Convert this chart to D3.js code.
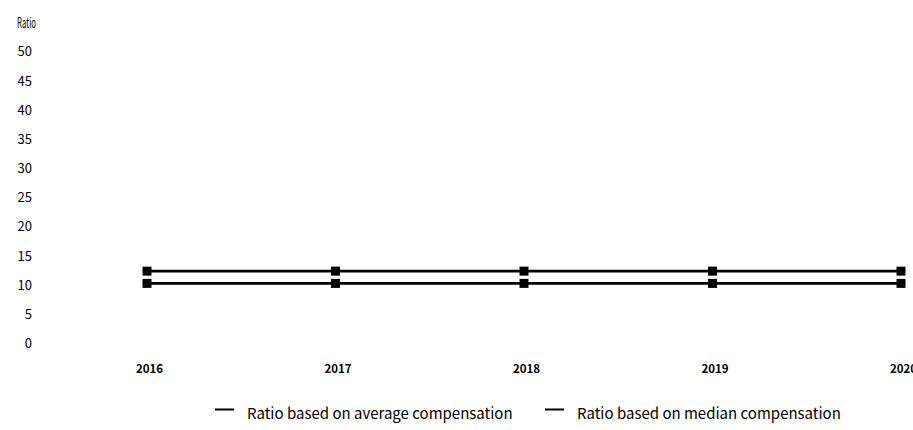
<!DOCTYPE html>
<html>
<head>
<meta charset="utf-8">
<script src="https://cdn.jsdelivr.net/npm/d3@7"></script>
<style>
  html, body { margin: 0; padding: 0; background: #fff; }
  svg { display: block; }
  text { font-family: "Noto Sans CJK KR", "Noto Sans", sans-serif; fill: #000; }
</style>
</head>
<body>
<svg id="chart" width="913" height="430"></svg>
<script>
// Pay ratio data by year
const years = ["2016", "2017", "2018", "2019", "2020"];
const averageRatio = [12.4, 12.4, 12.4, 12.4, 12.4];
const medianRatio = [10.3, 10.3, 10.3, 10.3, 10.3];
const yTicks = [0, 5, 10, 15, 20, 25, 30, 35, 40, 45, 50];
const seriesNames = ["Ratio based on average compensation", "Ratio based on median compensation"];
const yTitle = "Ratio";

const series = [
  { name: seriesNames[0], values: averageRatio },
  { name: seriesNames[1], values: medianRatio }
];

const svg = d3.select("#chart");

const x = d3.scalePoint().domain(years).range([147, 901]);
const y = d3.scaleLinear().domain([0, 50]).range([343.5, 51.7]);

// Y axis: labels only
const yAxis = d3.axisLeft(y).tickValues(yTicks).tickSize(0).tickPadding(0);
const yg = svg.append("g").attr("transform", "translate(32,0)").call(yAxis);
yg.select(".domain").remove();
yg.selectAll("text").attr("font-size", 13).attr("font-family", "'Noto Sans CJK KR', sans-serif").attr("fill", "#000");

// Axis title, set in a narrow face
svg.append("text")
  .attr("x", 17).attr("y", y(50) - 29)
  .attr("dy", "0.35em")
  .attr("font-size", 14)
  .attr("textLength", 19)
  .attr("lengthAdjust", "spacingAndGlyphs")
  .text(yTitle);

// X axis: bold year labels
const xAxis = d3.axisBottom(x).tickSize(0).tickPadding(0);
const xg = svg.append("g").attr("transform", "translate(2,365)").call(xAxis);
xg.select(".domain").remove();
xg.selectAll("text").attr("font-size", 11.5).attr("font-weight", "bold")
  .attr("font-family", "'Noto Sans CJK KR', sans-serif").attr("fill", "#000");

// Lines and square markers
const line = d3.line().x((d, i) => x(years[i])).y(d => y(d));
const g = svg.append("g");
series.forEach(s => {
  g.append("path")
    .datum(s.values)
    .attr("d", line)
    .attr("fill", "none")
    .attr("stroke", "#000")
    .attr("stroke-width", 2.6);
  g.selectAll(null)
    .data(s.values)
    .enter().append("rect")
    .attr("x", (d, i) => x(years[i]) - 4.5)
    .attr("y", d => y(d) - 4.5)
    .attr("width", 9).attr("height", 9)
    .attr("fill", "#000");
});

// Legend
const legendX = [215, 545];
const legendY = 416;
series.forEach((s, i) => {
  const lg = svg.append("g").attr("transform", `translate(${legendX[i]},${legendY})`);
  lg.append("line").attr("x1", 0).attr("x2", 19).attr("y1", -6.5).attr("y2", -6.5)
    .attr("stroke", "#000").attr("stroke-width", 2);
  lg.append("text").attr("x", 32).attr("y", 3)
    .attr("font-size", 15).text(s.name);
});
</script>
</body>
</html>
